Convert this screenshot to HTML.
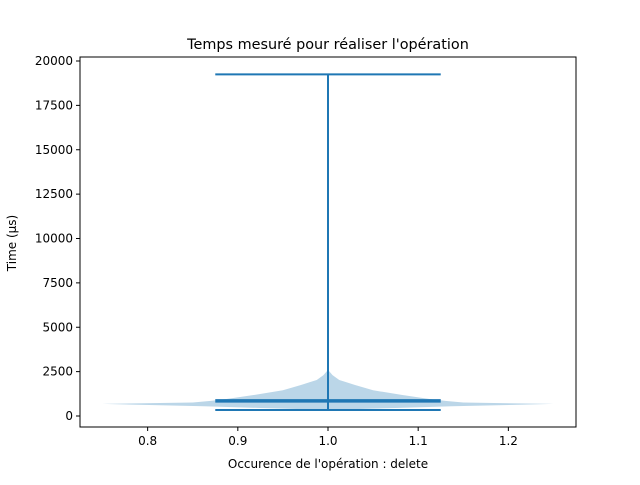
<!DOCTYPE html>
<html><head><meta charset="utf-8"><style>
body{margin:0;background:#fff;font-family:"Liberation Sans","DejaVu Sans",sans-serif}
</style></head><body>
<svg id="chart" width="640" height="480" xmlns="http://www.w3.org/2000/svg" font-family="DejaVu Sans, Liberation Sans, sans-serif">
<rect width="640" height="480" fill="#fff"/>
<g id="plot"></g>
</svg>
<script>
const yTicks=[0,2500,5000,7500,10000,12500,15000,17500,20000];
const xTicks=[0.8,0.9,1.0,1.1,1.2];
const profileValues=[330,390,450,550,680,760,850,960,1180,1450,1750,2030,2300,2600];
const profileWidths=[0,0.12,0.3,0.55,1.0,0.6,0.52,0.45,0.33,0.2,0.12,0.05,0.02,0];
const stats={min:340,max:19250,median:850};
const position=1.0;
const NS="http://www.w3.org/2000/svg";
const L=80,R=576,T=57,B=427;
const X=v=>L+(v-0.725)/(0.55)*(R-L);
const Y=v=>416-v*0.01775;
const g=document.getElementById('plot');
function mk(t,a,p){const e=document.createElementNS(NS,t);for(const k in a)e.setAttribute(k,a[k]);(p||g).appendChild(e);return e;}
let pts=[];
profileValues.forEach((v,i)=>pts.push(X(position+0.25*profileWidths[i])+','+Y(v)));
for(let i=profileValues.length-1;i>=0;i--)pts.push(X(position-0.25*profileWidths[i])+','+Y(profileValues[i]));
const body=mk('polygon',{points:pts.join(' '),fill:'#1f77b4','fill-opacity':0.3});


const vl=mk('line',{x1:X(position),x2:X(position),y1:Y(stats.min),y2:Y(stats.max),stroke:'#1f77b4','stroke-width':2});


[['min',2],['max',2],['median',3.5]].forEach(([k,w])=>{
 const l=mk('line',{x1:X(position-0.125),x2:X(position+0.125),y1:Y(stats[k]),y2:Y(stats[k]),stroke:'#1f77b4','stroke-width':w});
 
 
});
const frame=mk('rect',{x:L,y:T,width:R-L,height:B-T,fill:'none',stroke:'#000','stroke-width':1});


yTicks.forEach(t=>{
 mk('line',{x1:L-4,x2:L,y1:Y(t),y2:Y(t),stroke:'#000'});
 const tx=mk('text',{x:L-7,y:Y(t)+4,'text-anchor':'end','font-size':12});tx.textContent=t;
 
 
});
xTicks.forEach(t=>{
 mk('line',{x1:X(t),x2:X(t),y1:B,y2:B+4,stroke:'#000'});
 const tx=mk('text',{x:X(t),y:B+18,'text-anchor':'middle','font-size':12});tx.textContent=t.toFixed(1);
 
 
});
const ti=mk('text',{x:328,y:49,'text-anchor':'middle','font-size':14.4});ti.textContent="Temps mesuré pour réaliser l'opération";


const xl=mk('text',{x:328,y:468,'text-anchor':'middle','font-size':12});xl.textContent="Occurence de l'opération : delete";


const yl=mk('text',{x:16,y:243,'text-anchor':'middle','font-size':12,transform:'rotate(-90 16 243)'});yl.textContent="Time (µs)";


</script>
</body></html>
